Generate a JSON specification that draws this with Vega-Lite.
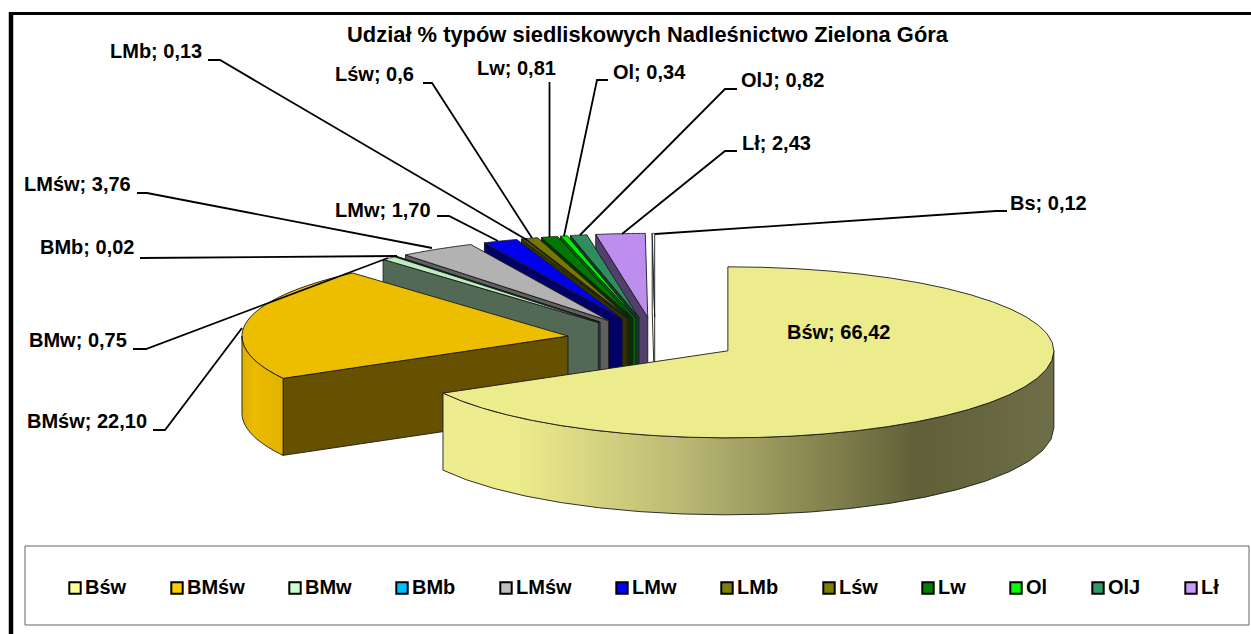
{
"$schema":"https://vega.github.io/schema/vega-lite/v6.json",
"width":1251,"height":634,"autosize":"none","padding":0,"background":"white",
"title":{"text":"Udział % typów siedliskowych Nadleśnictwo Zielona Góra","font":"Liberation Sans","fontWeight":"bold","fontSize":21.9,"color":"#000","anchor":"middle","baseline":"middle","dx":22,"dy":57,"offset":0},
"config":{"view":{"stroke":null},"text":{"font":"Liberation Sans"}},
"params":[
{"name":"rx","value":326},{"name":"ryb","value":84},{"name":"ryf","value":87},{"name":"depth","value":77},
{"name":"cx","value":653},{"name":"cy","value":339.5},{"name":"ex","value":0.264},
{"name":"pos","value":{
"LMb":{"x":110,"y":52,"pts":[[208,60],[220,60],[527,240]]},
"LMśw":{"x":24,"y":185,"pts":[[137,193],[147,193],[432,248]]},
"LMw":{"x":335,"y":211,"pts":[[437,216],[449,216],[498,241]]},
"Lśw":{"x":335,"y":75,"pts":[[423,83],[432,83],[532,238]]},
"Lw":{"x":477,"y":69,"pts":[[549.5,82],[549.5,237]]},
"Ol":{"x":613,"y":73,"pts":[[608,80],[597,80],[564,236]]},
"OlJ":{"x":741,"y":81,"pts":[[737,89],[725,89],[580,235]]},
"Lł":{"x":742,"y":144,"pts":[[737,151],[725,151],[622,234]]},
"Bs":{"x":1010,"y":204,"pts":[[1007,211],[996,211],[655,234]]},
"BMb":{"x":40,"y":248,"pts":[[140,258],[397,256]]},
"BMw":{"x":29,"y":341,"pts":[[133,349],[146,349],[388,258]]},
"BMśw":{"x":27,"y":422,"pts":[[153,430],[165,430],[242,328]]},
"Bśw":{"x":787,"y":333,"pts":[]}
}}
],
"datasets":{"slices":[
{"name":"Bs","value":0.12,"label":"Bs; 0,12"},
{"name":"Lł","value":2.43,"label":"Lł; 2,43"},
{"name":"OlJ","value":0.82,"label":"OlJ; 0,82"},
{"name":"Ol","value":0.34,"label":"Ol; 0,34"},
{"name":"Lw","value":0.81,"label":"Lw; 0,81"},
{"name":"Lśw","value":0.6,"label":"Lśw; 0,6"},
{"name":"LMb","value":0.13,"label":"LMb; 0,13"},
{"name":"LMw","value":1.70,"label":"LMw; 1,70"},
{"name":"LMśw","value":3.76,"label":"LMśw; 3,76"},
{"name":"BMb","value":0.02,"label":"BMb; 0,02"},
{"name":"BMw","value":0.75,"label":"BMw; 0,75"},
{"name":"BMśw","value":22.10,"label":"BMśw; 22,10"},
{"name":"Bśw","value":66.42,"label":"Bśw; 66,42"}
]},
"layer":[
{"data":{"values":[{"box":"legend"}]},"mark":{"type":"rect","fill":"white","stroke":"#666","strokeWidth":1},
 "encoding":{"x":{"datum":25,"type":"quantitative","scale":{"domain":[0,1251],"nice":false,"zero":false},"axis":null},"x2":{"datum":1249},
 "y":{"datum":546,"type":"quantitative","scale":{"domain":[0,634],"reverse":true,"nice":false,"zero":false},"axis":null},"y2":{"datum":625}}},
{"data":{"values":[{"frame":"left"}]},"mark":{"type":"rule","stroke":"#000","strokeWidth":4.5},
 "encoding":{"x":{"datum":11,"type":"quantitative"},"y":{"datum":12,"type":"quantitative"},"y2":{"datum":634}}},
{"data":{"values":[{"frame":"top"}]},"mark":{"type":"rule","stroke":"#000","strokeWidth":3},
 "encoding":{"x":{"datum":9,"type":"quantitative"},"x2":{"datum":1251},"y":{"datum":13.5,"type":"quantitative"}}},
{"data":{"name":"slices"},
 "transform":[
 {"window":[{"op":"sum","field":"value","as":"cum"}],"frame":[null,0],"ignorePeers":true},
 {"calculate":"270-3.6*(datum.cum-datum.value)","as":"u1"},
 {"calculate":"270-3.6*datum.cum","as":"u0"},
 {"calculate":"(datum.u0+datum.u1)/2*PI/180","as":"m"},
 {"calculate":"datum.u1+3.5*max(0,sin(datum.u1*PI/180))","as":"t1"},
 {"calculate":"datum.u0+3.5*max(0,sin(datum.u0*PI/180))","as":"t0"},
 {"calculate":"cx+ex*rx*cos(datum.m)+2*pow(max(0,-sin(datum.m)),4)","as":"ax"},
 {"calculate":"cy+ex*(sin(datum.m)>0?ryf:ryb)*sin(datum.m)","as":"ay"},
 {"calculate":"max(datum.t0,0)","as":"a0"},
 {"calculate":"min(datum.t1,180)","as":"a1"},
 {"calculate":"['face','wall','top']","as":"parts"},
 {"flatten":["parts"],"as":["part"]},
 {"filter":"datum.part=='top' || (datum.part=='wall' && datum.a1>datum.a0) || (datum.part=='face' && cos(datum.t0*PI/180)<-0.001)"},
 {"calculate":"[0,1,2,3,4,5,6,7,8,9,10,11,12,13,14,15,16,17,18,19,20,21,22,23,24,25,26,27,28,29,30,31,32,33,34,35,36,37,38,39,40,41,42]","as":"ks"},
 {"flatten":["ks"],"as":["k"]},
 {"filter":"datum.part!='face' || datum.k<=4"},
 {"calculate":"datum.part=='top'?(datum.t0+(datum.t1-datum.t0)*(datum.k-1)/40):datum.part=='face'?datum.t0:(datum.k<=20?datum.a0+(datum.a1-datum.a0)*datum.k/20:datum.k<=41?datum.a1+(datum.a0-datum.a1)*(datum.k-21)/20:datum.a0)","as":"ang"},
 {"calculate":"datum.part=='top'?((datum.k==0||datum.k>=42)?0:1):datum.part=='face'?((datum.k==1||datum.k==2)?1:0):1","as":"r"},
 {"calculate":"datum.part=='face'?((datum.k==2||datum.k==3)?1:0):datum.part=='wall'?((datum.k>=21&&datum.k<=41)?1:0):0","as":"z"},
 {"calculate":"datum.ax+datum.r*rx*cos(datum.ang*PI/180)","as":"px"},
 {"calculate":"datum.ay+datum.r*(sin(datum.ang*PI/180)>0?ryf:ryb)*sin(datum.ang*PI/180)+datum.z*depth","as":"py"},
 {"calculate":"datum.name+'|'+datum.part","as":"poly"},
 {"calculate":"datum.part=='top'?datum.name:datum.name+'|w'","as":"shade"}
 ],
 "layer":[
 {"transform":[{"filter":"datum.poly!='BMśw|wall' && datum.poly!='Bśw|wall' && datum.poly!='Bśw|top'"}],
  "mark":{"type":"line","stroke":"#1a1a1a","strokeWidth":0.9,"strokeJoin":"round"},
  "encoding":{"x":{"field":"px","type":"quantitative"},"y":{"field":"py","type":"quantitative"},"order":{"field":"k"},"detail":{"field":"poly"},
  "fill":{"field":"shade","type":"nominal","legend":null,"scale":{
   "domain":["Bs","Bs|w","Lł","Lł|w","OlJ","OlJ|w","Ol","Ol|w","Lw","Lw|w","Lśw","Lśw|w","LMb","LMb|w","LMw","LMw|w","LMśw","LMśw|w","BMb","BMb|w","BMw","BMw|w","BMśw","BMśw|w"],
   "range":["#ffffff","#ffffff","#BD8EED","#523F6B","#2F8E5F","#143D29","#00ED00","#006600","#007700","#003300","#777700","#333300","#777700","#333300","#0000ED","#000066","#B2B2B2","#606060","#00BDED","#005266","#BDEDBD","#526A55","#EDBD00","#655100"]}}}},
 {"transform":[{"filter":"datum.poly=='BMśw|wall'"}],
  "mark":{"type":"line","stroke":"#1a1a1a","strokeWidth":0.9,"strokeJoin":"round","fill":{"gradient":"linear","x1":0,"y1":0,"x2":1,"y2":0,"stops":[{"offset":0,"color":"#DDB000"},{"offset":0.3,"color":"#EBBB00"},{"offset":1,"color":"#E2B300"}]}},
  "encoding":{"x":{"field":"px","type":"quantitative"},"y":{"field":"py","type":"quantitative"},"order":{"field":"k"}}},
 {"transform":[{"filter":"datum.poly=='Bśw|wall'"}],
  "mark":{"type":"line","stroke":"#1a1a1a","strokeWidth":0.9,"strokeJoin":"round","fill":{"gradient":"linear","x1":0,"y1":0,"x2":1,"y2":0,"stops":[{"offset":0,"color":"#EEEC90"},{"offset":0.12,"color":"#EDEC8C"},{"offset":0.38,"color":"#BDBB75"},{"offset":0.58,"color":"#8F8D55"},{"offset":0.78,"color":"#5F5F38"},{"offset":1,"color":"#6E6E48"}]}},
  "encoding":{"x":{"field":"px","type":"quantitative"},"y":{"field":"py","type":"quantitative"},"order":{"field":"k"}}},
 {"transform":[{"filter":"datum.poly=='Bśw|top'"}],
  "mark":{"type":"line","stroke":"#1a1a1a","strokeWidth":0.9,"strokeJoin":"round","fill":"#EDEC8C"},
  "encoding":{"x":{"field":"px","type":"quantitative"},"y":{"field":"py","type":"quantitative"},"order":{"field":"k"}}}
 ]},
{"data":{"name":"slices"},
 "transform":[
 {"calculate":"pos[datum.name].pts","as":"pts"},
 {"calculate":"[0,1,2]","as":"idx"},
 {"flatten":["pts","idx"]},
 {"filter":"datum.pts!=null"},
 {"calculate":"datum.pts[0]","as":"px"},
 {"calculate":"datum.pts[1]","as":"py"}
 ],
 "mark":{"type":"line","stroke":"#000","strokeWidth":1.8},
 "encoding":{"x":{"field":"px","type":"quantitative"},"y":{"field":"py","type":"quantitative"},"order":{"field":"idx"},"detail":{"field":"name"}}},
{"data":{"name":"slices"},
 "transform":[
 {"calculate":"pos[datum.name].x","as":"px"},
 {"calculate":"pos[datum.name].y","as":"py"}
 ],
 "mark":{"type":"text","align":"left","baseline":"middle","font":"Liberation Sans","fontWeight":"bold","fontSize":20,"fill":"#000"},
 "encoding":{"x":{"field":"px","type":"quantitative"},"y":{"field":"py","type":"quantitative"},"text":{"field":"label"}}},
{"data":{"name":"slices"},
 "transform":[{"filter":"datum.name!='Bs'"}],
 "mark":{"type":"square","size":0,"filled":true},
 "encoding":{"color":{"field":"name","type":"nominal",
  "scale":{"domain":["Bśw","BMśw","BMw","BMb","LMśw","LMw","LMb","Lśw","Lw","Ol","OlJ","Lł"],
  "range":["#FFFF99","#FFCC00","#CCFFCC","#00BFFF","#C0C0C0","#0000FF","#808000","#808000","#008000","#00FF00","#339966","#CC99FF"]},
  "legend":{"title":null,"orient":"none","legendX":65,"legendY":578,"columns":12,"gridAlign":"each","columnPadding":40,"symbolType":"square","symbolSize":130,"symbolStrokeColor":"#000","symbolStrokeWidth":2,"symbolOpacity":1,"labelFont":"Liberation Sans","labelFontWeight":"bold","labelFontSize":20,"labelColor":"#000","labelOffset":0,"padding":0}}}}
]
}
